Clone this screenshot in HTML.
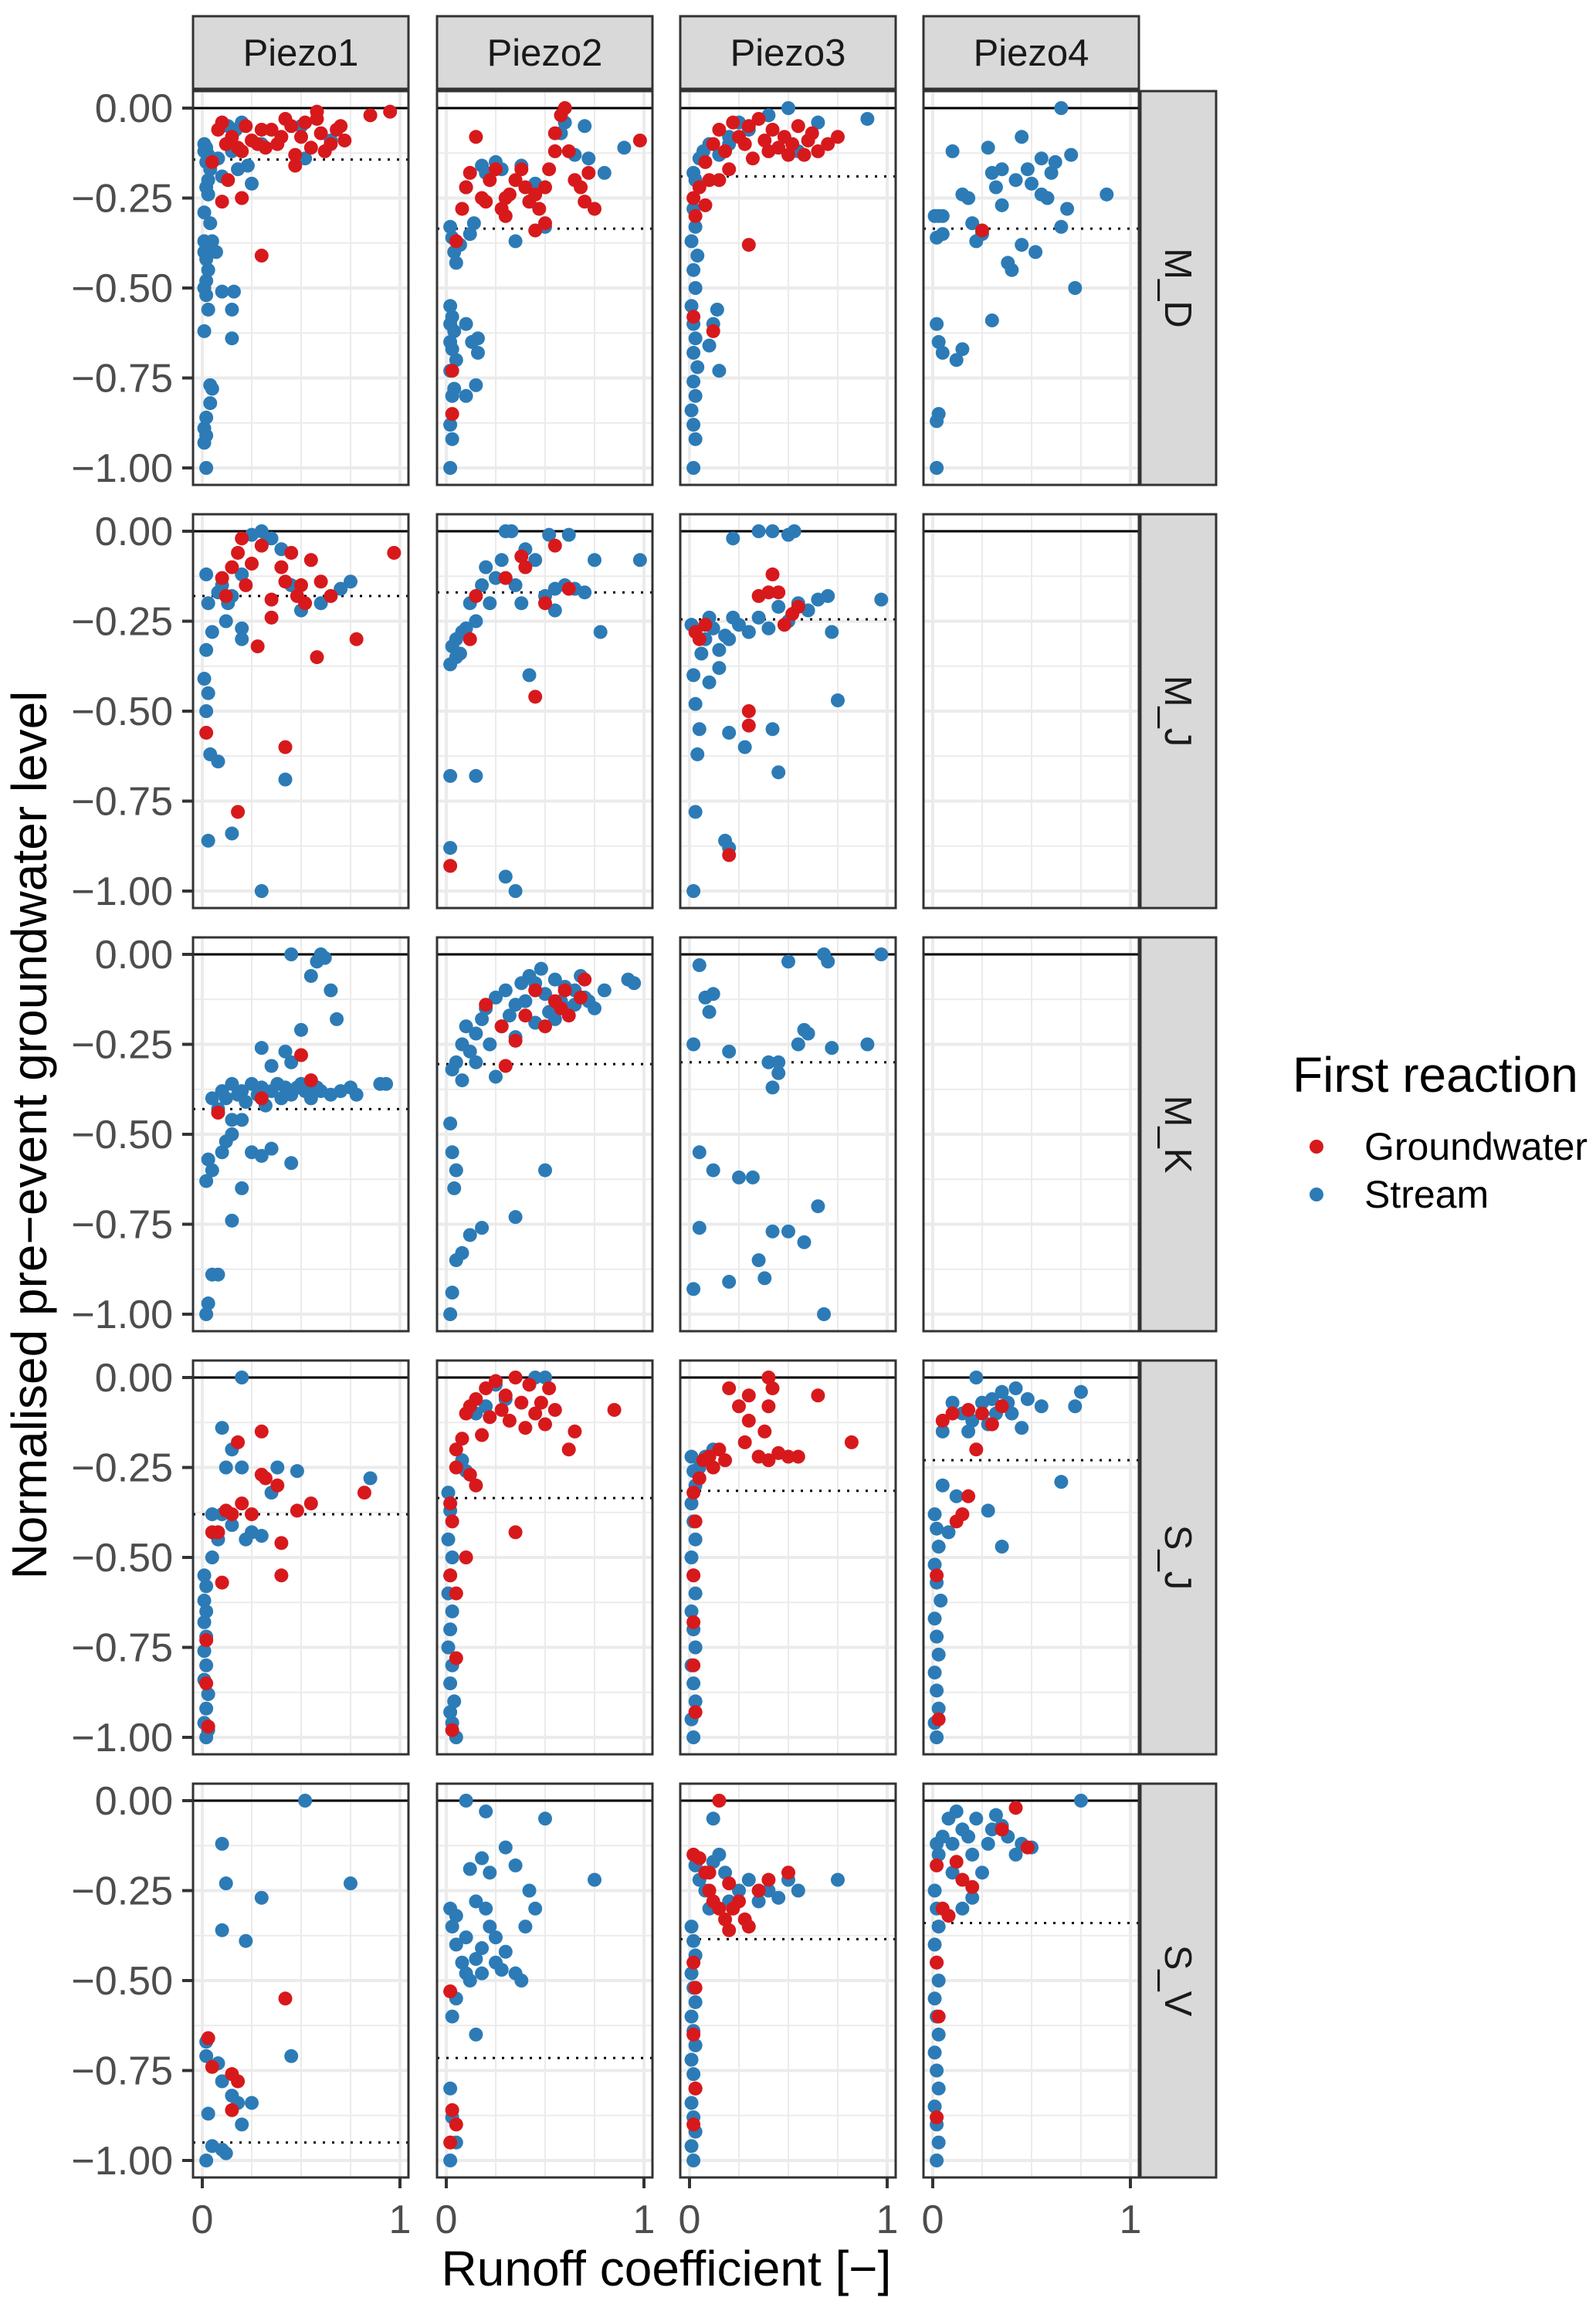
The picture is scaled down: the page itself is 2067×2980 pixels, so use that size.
<!DOCTYPE html>
<html><head><meta charset="utf-8"><style>html,body{margin:0;padding:0;background:#fff}svg{display:block}</style></head>
<body>
<svg id="chart" width="2067" height="2980" viewBox="0 0 2067 2980" xmlns="http://www.w3.org/2000/svg" font-family="Liberation Sans, Arial, sans-serif">
<rect width="2067" height="2980" fill="#fff"/>
<g id="panels"></g>
<text x="0" y="0" transform="translate(60,1470) rotate(-90)" text-anchor="middle" font-size="64" fill="#000">Normalised pre−event groundwater level</text>
<text x="863" y="2960" text-anchor="middle" font-size="64" fill="#000">Runoff coefficient [−]</text>
<g>
<text x="1674" y="1414" font-size="64" fill="#000">First reaction</text>
<circle cx="1705" cy="1485" r="9" fill="#D7191C"/>
<text x="1767" y="1502" font-size="50" fill="#000">Groundwater</text>
<circle cx="1705" cy="1547" r="9" fill="#2C7BB6"/>
<text x="1767" y="1564" font-size="50" fill="#000">Stream</text>
</g>
</svg>
<script>
const columns = ["Piezo1","Piezo2","Piezo3","Piezo4"];
const rows = ["M_D","M_J","M_K","S_J","S_V"];
const yTicks = [0,-0.25,-0.5,-0.75,-1];
const yTickLabels = ["0.00","−0.25","−0.50","−0.75","−1.00"];
const xTicks = [0,1];
const xTickLabels = ["0","1"];
const thresholds = [
 [-0.143,-0.335,-0.19,-0.335],
 [-0.18,-0.17,-0.245,null],
 [-0.43,-0.305,-0.3,null],
 [-0.38,-0.335,-0.315,-0.23],
 [-0.95,-0.715,-0.385,-0.34]];

// M_D
const md1_gw=[[0.05,-0.15],[0.08,-0.06],[0.1,-0.04],[0.12,-0.1],[0.15,-0.08],[0.2,-0.12],[0.22,-0.05],[0.25,-0.09],[0.28,-0.1],[0.3,-0.06],[0.32,-0.11],[0.35,-0.06],[0.4,-0.08],[0.42,-0.03],[0.45,-0.05],[0.47,-0.13],[0.5,-0.08],[0.52,-0.04],[0.55,-0.11],[0.58,-0.01],[0.6,-0.07],[0.62,-0.12],[0.65,-0.1],[0.68,-0.06],[0.7,-0.05],[0.72,-0.09],[0.85,-0.02],[0.95,-0.01],[0.3,-0.41],[0.2,-0.25],[0.1,-0.26],[0.13,-0.2],[0.47,-0.16],[0.58,-0.03],[0.38,-0.1],[0.18,-0.11]];
const md1_st=[[0.01,-0.1],[0.02,-0.11],[0.01,-0.12],[0.03,-0.13],[0.02,-0.15],[0.04,-0.17],[0.03,-0.2],[0.02,-0.22],[0.03,-0.24],[0.01,-0.29],[0.04,-0.32],[0.01,-0.37],[0.02,-0.38],[0.01,-0.4],[0.02,-0.42],[0.03,-0.45],[0.02,-0.48],[0.01,-0.5],[0.02,-0.52],[0.03,-0.56],[0.01,-0.62],[0.04,-0.77],[0.05,-0.78],[0.04,-0.82],[0.02,-0.86],[0.01,-0.89],[0.02,-0.91],[0.01,-0.93],[0.02,-1.0],[0.08,-0.14],[0.1,-0.19],[0.13,-0.05],[0.17,-0.06],[0.2,-0.04],[0.15,-0.12],[0.18,-0.17],[0.23,-0.16],[0.25,-0.21],[0.3,-0.1],[0.5,-0.05],[0.52,-0.14],[0.65,-0.09],[0.1,-0.51],[0.16,-0.51],[0.15,-0.56],[0.15,-0.64],[0.05,-0.37],[0.07,-0.4]];
const md2_gw=[[0.08,-0.28],[0.1,-0.22],[0.12,-0.18],[0.15,-0.08],[0.18,-0.25],[0.2,-0.26],[0.22,-0.2],[0.25,-0.17],[0.28,-0.28],[0.3,-0.25],[0.32,-0.24],[0.35,-0.2],[0.38,-0.17],[0.4,-0.22],[0.42,-0.26],[0.45,-0.24],[0.47,-0.28],[0.5,-0.32],[0.52,-0.17],[0.55,-0.07],[0.58,-0.02],[0.6,0],[0.62,-0.12],[0.65,-0.2],[0.68,-0.22],[0.7,-0.26],[0.72,-0.18],[0.75,-0.28],[0.98,-0.09],[0.05,-0.37],[0.03,-0.73],[0.03,-0.85],[0.45,-0.34],[0.5,-0.22],[0.3,-0.3],[0.55,-0.12]];
const md2_st=[[0.02,-0.33],[0.03,-0.36],[0.04,-0.4],[0.05,-0.43],[0.07,-0.38],[0.1,-0.22],[0.12,-0.35],[0.14,-0.32],[0.18,-0.16],[0.2,-0.18],[0.25,-0.15],[0.28,-0.17],[0.35,-0.37],[0.42,-0.26],[0.5,-0.33],[0.58,-0.07],[0.6,-0.04],[0.65,-0.13],[0.7,-0.05],[0.72,-0.14],[0.8,-0.18],[0.9,-0.11],[0.45,-0.21],[0.38,-0.16],[0.02,-0.55],[0.03,-0.58],[0.02,-0.6],[0.04,-0.62],[0.02,-0.65],[0.03,-0.67],[0.05,-0.7],[0.02,-0.73],[0.04,-0.78],[0.03,-0.8],[0.02,-0.88],[0.03,-0.92],[0.02,-1.0],[0.1,-0.6],[0.13,-0.65],[0.16,-0.64],[0.16,-0.68],[0.15,-0.77],[0.1,-0.8]];
const md3_gw=[[0.03,-0.3],[0.05,-0.22],[0.08,-0.15],[0.1,-0.2],[0.12,-0.1],[0.15,-0.06],[0.18,-0.12],[0.2,-0.17],[0.22,-0.04],[0.25,-0.08],[0.28,-0.1],[0.3,-0.05],[0.32,-0.14],[0.35,-0.03],[0.38,-0.09],[0.4,-0.12],[0.42,-0.06],[0.45,-0.11],[0.48,-0.08],[0.5,-0.13],[0.52,-0.1],[0.55,-0.05],[0.58,-0.13],[0.6,-0.09],[0.62,-0.07],[0.65,-0.12],[0.7,-0.1],[0.75,-0.08],[0.3,-0.38],[0.02,-0.58],[0.12,-0.62],[0.08,-0.27],[0.15,-0.2],[0.02,-0.25]];
const md3_st=[[0.02,-0.18],[0.03,-0.2],[0.05,-0.14],[0.07,-0.12],[0.1,-0.1],[0.15,-0.13],[0.2,-0.08],[0.25,-0.04],[0.3,-0.06],[0.4,-0.02],[0.5,0],[0.55,-0.12],[0.65,-0.04],[0.9,-0.03],[0.12,-0.6],[0.14,-0.56],[0.15,-0.73],[0.1,-0.66],[0.2,-0.1],[0.02,-0.28],[0.03,-0.33],[0.01,-0.37],[0.04,-0.41],[0.02,-0.45],[0.03,-0.5],[0.01,-0.55],[0.02,-0.6],[0.03,-0.64],[0.02,-0.68],[0.04,-0.72],[0.02,-0.76],[0.03,-0.8],[0.01,-0.84],[0.02,-0.88],[0.03,-0.92],[0.02,-1.0]];
const md4_gw=[[0.25,-0.34]];
const md4_st=[[0.01,-0.3],[0.03,-0.3],[0.05,-0.3],[0.02,-0.36],[0.05,-0.35],[0.1,-0.12],[0.15,-0.24],[0.18,-0.25],[0.2,-0.32],[0.22,-0.37],[0.25,-0.35],[0.28,-0.11],[0.3,-0.18],[0.32,-0.22],[0.35,-0.27],[0.38,-0.43],[0.4,-0.45],[0.42,-0.2],[0.45,-0.38],[0.48,-0.17],[0.5,-0.21],[0.52,-0.4],[0.55,-0.14],[0.58,-0.25],[0.6,-0.18],[0.62,-0.15],[0.65,0],[0.65,-0.33],[0.68,-0.28],[0.7,-0.13],[0.72,-0.5],[0.88,-0.24],[0.3,-0.59],[0.02,-0.6],[0.03,-0.65],[0.05,-0.68],[0.15,-0.67],[0.12,-0.7],[0.03,-0.85],[0.02,-0.87],[0.02,-1.0],[0.45,-0.08],[0.35,-0.17],[0.55,-0.24]];
// M_J
const mj1_gw=[[0.02,-0.56],[0.1,-0.13],[0.12,-0.18],[0.15,-0.1],[0.18,-0.06],[0.2,-0.02],[0.22,-0.15],[0.25,-0.09],[0.28,-0.32],[0.3,-0.04],[0.35,-0.24],[0.4,-0.1],[0.42,-0.14],[0.45,-0.06],[0.48,-0.18],[0.5,-0.15],[0.52,-0.2],[0.55,-0.08],[0.6,-0.14],[0.65,-0.18],[0.78,-0.3],[0.97,-0.06],[0.42,-0.6],[0.18,-0.78],[0.58,-0.35],[0.35,-0.19]];
const mj1_st=[[0.02,-0.12],[0.03,-0.2],[0.05,-0.28],[0.02,-0.33],[0.01,-0.41],[0.03,-0.45],[0.02,-0.5],[0.04,-0.62],[0.08,-0.64],[0.03,-0.86],[0.15,-0.84],[0.3,-1.0],[0.42,-0.69],[0.08,-0.17],[0.1,-0.15],[0.12,-0.25],[0.15,-0.18],[0.2,-0.12],[0.2,-0.3],[0.25,-0.01],[0.3,0],[0.35,-0.02],[0.4,-0.05],[0.45,-0.15],[0.5,-0.22],[0.6,-0.2],[0.7,-0.16],[0.75,-0.14],[0.2,-0.27],[0.13,-0.2],[0.33,-0.02]];
const mj2_gw=[[0.02,-0.93],[0.12,-0.3],[0.15,-0.18],[0.3,-0.13],[0.38,-0.07],[0.4,-0.1],[0.45,-0.46],[0.55,-0.04],[0.62,-0.16],[0.5,-0.2]];
const mj2_st=[[0.02,-0.37],[0.03,-0.32],[0.05,-0.3],[0.05,-0.35],[0.07,-0.34],[0.08,-0.28],[0.1,-0.27],[0.12,-0.2],[0.15,-0.25],[0.18,-0.15],[0.2,-0.1],[0.25,-0.13],[0.28,-0.08],[0.3,0],[0.33,0],[0.35,-0.15],[0.38,-0.2],[0.4,-0.05],[0.42,-0.4],[0.45,-0.08],[0.5,-0.18],[0.52,-0.01],[0.55,-0.16],[0.6,-0.15],[0.62,-0.01],[0.65,-0.16],[0.7,-0.17],[0.75,-0.08],[0.78,-0.28],[0.98,-0.08],[0.02,-0.68],[0.02,-0.88],[0.15,-0.68],[0.3,-0.96],[0.35,-1.0],[0.55,-0.22],[0.22,-0.2]];
const mj3_gw=[[0.03,-0.28],[0.05,-0.3],[0.08,-0.26],[0.3,-0.5],[0.2,-0.9],[0.3,-0.54],[0.35,-0.18],[0.4,-0.17],[0.45,-0.17],[0.52,-0.23],[0.55,-0.21],[0.48,-0.26],[0.42,-0.12]];
const mj3_st=[[0.01,-0.26],[0.02,-0.4],[0.03,-0.48],[0.05,-0.55],[0.04,-0.62],[0.03,-0.78],[0.02,-1.0],[0.06,-0.34],[0.08,-0.3],[0.1,-0.24],[0.12,-0.27],[0.15,-0.33],[0.15,-0.38],[0.18,-0.29],[0.2,-0.3],[0.22,-0.24],[0.25,-0.26],[0.3,-0.28],[0.35,-0.24],[0.4,-0.27],[0.45,-0.21],[0.5,-0.25],[0.55,-0.2],[0.6,-0.22],[0.65,-0.19],[0.7,-0.18],[0.72,-0.28],[0.75,-0.47],[0.97,-0.19],[0.28,-0.6],[0.2,-0.56],[0.42,-0.55],[0.45,-0.67],[0.18,-0.86],[0.2,-0.88],[0.35,0],[0.42,0],[0.5,-0.01],[0.53,0],[0.22,-0.02],[0.3,-0.28],[0.1,-0.42]];
// M_K
const mk1_gw=[[0.08,-0.44],[0.55,-0.35],[0.5,-0.28],[0.3,-0.4]];
const mk1_st=[[0.02,-1.0],[0.03,-0.97],[0.05,-0.89],[0.08,-0.89],[0.02,-0.63],[0.05,-0.6],[0.03,-0.57],[0.1,-0.55],[0.12,-0.52],[0.15,-0.5],[0.15,-0.74],[0.2,-0.65],[0.25,-0.55],[0.3,-0.56],[0.35,-0.54],[0.45,-0.58],[0.05,-0.4],[0.08,-0.43],[0.1,-0.38],[0.12,-0.4],[0.15,-0.36],[0.18,-0.39],[0.2,-0.38],[0.22,-0.41],[0.25,-0.36],[0.28,-0.39],[0.3,-0.37],[0.32,-0.42],[0.35,-0.38],[0.38,-0.36],[0.4,-0.4],[0.42,-0.37],[0.45,-0.39],[0.48,-0.37],[0.5,-0.36],[0.52,-0.38],[0.55,-0.4],[0.58,-0.37],[0.6,-0.38],[0.65,-0.39],[0.7,-0.38],[0.75,-0.37],[0.78,-0.39],[0.9,-0.36],[0.93,-0.36],[0.3,-0.26],[0.35,-0.31],[0.42,-0.27],[0.45,-0.3],[0.5,-0.21],[0.55,-0.06],[0.58,-0.02],[0.6,0],[0.62,-0.01],[0.65,-0.1],[0.68,-0.18],[0.45,0],[0.2,-0.46],[0.15,-0.46]];
const mk2_gw=[[0.2,-0.14],[0.3,-0.31],[0.35,-0.24],[0.4,-0.17],[0.45,-0.1],[0.5,-0.2],[0.55,-0.13],[0.6,-0.1],[0.62,-0.17],[0.68,-0.12],[0.7,-0.07],[0.58,-0.15],[0.28,-0.2]];
const mk2_st=[[0.05,-0.3],[0.08,-0.25],[0.1,-0.2],[0.12,-0.27],[0.15,-0.22],[0.18,-0.18],[0.2,-0.15],[0.22,-0.25],[0.25,-0.12],[0.28,-0.2],[0.3,-0.1],[0.32,-0.17],[0.35,-0.14],[0.38,-0.08],[0.4,-0.13],[0.42,-0.06],[0.45,-0.19],[0.48,-0.04],[0.5,-0.11],[0.52,-0.16],[0.55,-0.07],[0.58,-0.13],[0.6,-0.09],[0.62,-0.15],[0.65,-0.1],[0.68,-0.06],[0.7,-0.12],[0.75,-0.15],[0.8,-0.1],[0.92,-0.07],[0.95,-0.08],[0.03,-0.32],[0.08,-0.35],[0.15,-0.3],[0.25,-0.34],[0.35,-0.23],[0.45,-0.08],[0.55,-0.18],[0.65,-0.14],[0.72,-0.13],[0.02,-0.47],[0.03,-0.55],[0.05,-0.6],[0.04,-0.65],[0.05,-0.85],[0.08,-0.83],[0.12,-0.78],[0.18,-0.76],[0.35,-0.73],[0.02,-1.0],[0.03,-0.94],[0.5,-0.6]];
const mk3_gw=[];
const mk3_st=[[0.02,-0.25],[0.08,-0.12],[0.12,-0.11],[0.1,-0.16],[0.2,-0.27],[0.05,-0.55],[0.05,-0.76],[0.02,-0.93],[0.12,-0.6],[0.25,-0.62],[0.2,-0.91],[0.35,-0.85],[0.38,-0.9],[0.42,-0.77],[0.45,-0.33],[0.4,-0.3],[0.42,-0.37],[0.5,-0.77],[0.58,-0.8],[0.55,-0.25],[0.6,-0.22],[0.65,-0.7],[0.68,-1.0],[0.5,-0.02],[0.58,-0.21],[0.68,0],[0.7,-0.02],[0.72,-0.26],[0.9,-0.25],[0.97,0],[0.45,-0.3],[0.32,-0.62],[0.05,-0.03]];
// S_J
const sj1_gw=[[0.02,-0.73],[0.02,-0.85],[0.03,-0.97],[0.05,-0.43],[0.08,-0.43],[0.1,-0.57],[0.12,-0.37],[0.18,-0.18],[0.2,-0.35],[0.25,-0.38],[0.3,-0.15],[0.32,-0.28],[0.38,-0.3],[0.4,-0.46],[0.4,-0.55],[0.48,-0.37],[0.55,-0.35],[0.82,-0.32],[0.15,-0.38],[0.3,-0.27]];
const sj1_st=[[0.01,-0.55],[0.02,-0.58],[0.01,-0.62],[0.02,-0.65],[0.01,-0.68],[0.02,-0.72],[0.01,-0.76],[0.02,-0.8],[0.01,-0.84],[0.03,-0.88],[0.02,-0.92],[0.01,-0.96],[0.03,-0.98],[0.02,-1.0],[0.05,-0.5],[0.08,-0.45],[0.1,-0.14],[0.12,-0.25],[0.15,-0.41],[0.2,0],[0.2,-0.25],[0.25,-0.43],[0.3,-0.44],[0.35,-0.32],[0.38,-0.25],[0.48,-0.26],[0.85,-0.28],[0.15,-0.2],[0.05,-0.38],[0.1,-0.38],[0.22,-0.45]];
const sj2_gw=[[0.02,-0.35],[0.03,-0.4],[0.05,-0.2],[0.05,-0.25],[0.08,-0.17],[0.1,-0.1],[0.12,-0.27],[0.15,-0.06],[0.18,-0.16],[0.2,-0.03],[0.22,-0.11],[0.25,-0.01],[0.28,-0.09],[0.3,-0.05],[0.32,-0.12],[0.35,0],[0.38,-0.07],[0.4,-0.14],[0.42,-0.02],[0.45,-0.1],[0.48,-0.07],[0.5,-0.13],[0.52,-0.03],[0.55,-0.09],[0.62,-0.2],[0.65,-0.15],[0.85,-0.09],[0.35,-0.43],[0.1,-0.5],[0.02,-0.55],[0.05,-0.6],[0.03,-0.98],[0.05,-0.78],[0.15,-0.3],[0.12,-0.08]];
const sj2_st=[[0.01,-0.32],[0.02,-0.37],[0.01,-0.45],[0.03,-0.5],[0.02,-0.55],[0.01,-0.6],[0.03,-0.65],[0.02,-0.7],[0.01,-0.75],[0.03,-0.8],[0.02,-0.85],[0.04,-0.9],[0.02,-0.93],[0.03,-0.96],[0.05,-1.0],[0.08,-0.23],[0.1,-0.26],[0.15,-0.1],[0.2,-0.08],[0.25,-0.02],[0.3,-0.06],[0.5,0],[0.45,0]];
const sj3_gw=[[0.02,-0.32],[0.03,-0.4],[0.05,-0.28],[0.07,-0.23],[0.1,-0.22],[0.12,-0.25],[0.15,-0.2],[0.18,-0.23],[0.2,-0.03],[0.25,-0.08],[0.28,-0.18],[0.3,-0.12],[0.35,-0.22],[0.38,-0.15],[0.4,-0.08],[0.42,-0.03],[0.4,-0.23],[0.45,-0.21],[0.5,-0.22],[0.55,-0.22],[0.65,-0.05],[0.82,-0.18],[0.4,0],[0.3,-0.05],[0.02,-0.55],[0.02,-0.8],[0.03,-0.93],[0.02,-0.68]];
const sj3_st=[[0.01,-0.22],[0.02,-0.26],[0.03,-0.3],[0.01,-0.35],[0.02,-0.4],[0.03,-0.45],[0.01,-0.5],[0.02,-0.55],[0.03,-0.6],[0.01,-0.65],[0.02,-0.7],[0.03,-0.75],[0.01,-0.8],[0.02,-0.85],[0.03,-0.9],[0.01,-0.95],[0.02,-1.0],[0.05,-0.25],[0.08,-0.22],[0.12,-0.2]];
const sj4_gw=[[0.05,-0.12],[0.1,-0.1],[0.18,-0.09],[0.25,-0.1],[0.3,-0.13],[0.35,-0.08],[0.15,-0.38],[0.12,-0.4],[0.22,-0.2],[0.18,-0.33],[0.02,-0.55],[0.03,-0.95]];
const sj4_st=[[0.01,-0.38],[0.02,-0.42],[0.03,-0.47],[0.01,-0.52],[0.02,-0.57],[0.04,-0.62],[0.01,-0.67],[0.02,-0.72],[0.03,-0.77],[0.01,-0.82],[0.02,-0.87],[0.03,-0.92],[0.01,-0.96],[0.02,-1.0],[0.05,-0.15],[0.1,-0.07],[0.15,-0.1],[0.2,-0.12],[0.22,0],[0.25,-0.07],[0.28,-0.13],[0.3,-0.06],[0.32,-0.1],[0.35,-0.04],[0.38,-0.07],[0.4,-0.1],[0.42,-0.03],[0.45,-0.14],[0.48,-0.06],[0.55,-0.08],[0.72,-0.08],[0.75,-0.04],[0.65,-0.29],[0.35,-0.47],[0.28,-0.37],[0.05,-0.3],[0.08,-0.43],[0.12,-0.33],[0.18,-0.15]];
// S_V
const sv1_gw=[[0.03,-0.66],[0.05,-0.74],[0.15,-0.76],[0.18,-0.78],[0.42,-0.55],[0.15,-0.86]];
const sv1_st=[[0.02,-0.67],[0.02,-0.71],[0.03,-0.87],[0.02,-1.0],[0.08,-0.73],[0.1,-0.12],[0.12,-0.23],[0.1,-0.36],[0.15,-0.82],[0.18,-0.84],[0.2,-0.9],[0.22,-0.39],[0.25,-0.84],[0.3,-0.27],[0.05,-0.96],[0.1,-0.97],[0.12,-0.98],[0.45,-0.71],[0.52,0],[0.75,-0.23],[0.1,-0.78]];
const sv2_gw=[[0.02,-0.53],[0.03,-0.86],[0.05,-0.9],[0.02,-0.95]];
const sv2_st=[[0.02,-0.3],[0.03,-0.35],[0.05,-0.32],[0.05,-0.4],[0.08,-0.45],[0.1,-0.48],[0.1,-0.38],[0.12,-0.5],[0.15,-0.44],[0.18,-0.48],[0.2,-0.3],[0.22,-0.35],[0.25,-0.38],[0.28,-0.47],[0.3,-0.42],[0.35,-0.48],[0.38,-0.5],[0.4,-0.35],[0.45,-0.3],[0.5,-0.05],[0.15,-0.28],[0.18,-0.16],[0.22,-0.2],[0.12,-0.19],[0.1,0],[0.2,-0.03],[0.3,-0.13],[0.35,-0.18],[0.42,-0.25],[0.75,-0.22],[0.15,-0.65],[0.05,-0.55],[0.03,-0.6],[0.02,-0.8],[0.03,-0.88],[0.05,-0.95],[0.02,-1.0],[0.25,-0.45],[0.18,-0.41]];
const sv3_gw=[[0.02,-0.15],[0.05,-0.16],[0.08,-0.2],[0.1,-0.25],[0.12,-0.28],[0.15,-0.3],[0.18,-0.33],[0.2,-0.36],[0.22,-0.3],[0.25,-0.28],[0.28,-0.33],[0.3,-0.35],[0.15,0],[0.35,-0.25],[0.4,-0.22],[0.5,-0.2],[0.02,-0.45],[0.03,-0.52],[0.02,-0.65],[0.03,-0.8],[0.02,-0.9],[0.2,-0.23],[0.1,-0.2]];
const sv3_st=[[0.03,-0.18],[0.05,-0.22],[0.08,-0.25],[0.1,-0.3],[0.12,-0.17],[0.15,-0.15],[0.18,-0.2],[0.2,-0.28],[0.25,-0.25],[0.3,-0.22],[0.35,-0.28],[0.4,-0.25],[0.45,-0.27],[0.5,-0.22],[0.55,-0.25],[0.75,-0.22],[0.12,-0.05],[0.01,-0.35],[0.02,-0.39],[0.03,-0.43],[0.01,-0.48],[0.02,-0.52],[0.03,-0.56],[0.01,-0.6],[0.02,-0.64],[0.03,-0.68],[0.01,-0.72],[0.02,-0.76],[0.03,-0.8],[0.01,-0.84],[0.02,-0.88],[0.03,-0.92],[0.01,-0.96],[0.02,-1.0]];
const sv4_gw=[[0.02,-0.18],[0.05,-0.3],[0.08,-0.32],[0.12,-0.17],[0.15,-0.22],[0.2,-0.24],[0.35,-0.08],[0.42,-0.02],[0.48,-0.13],[0.02,-0.45],[0.03,-0.6],[0.02,-0.88]];
const sv4_st=[[0.02,-0.12],[0.03,-0.15],[0.05,-0.1],[0.08,-0.05],[0.1,-0.12],[0.12,-0.03],[0.15,-0.08],[0.18,-0.1],[0.2,-0.15],[0.22,-0.05],[0.25,-0.2],[0.28,-0.12],[0.3,-0.08],[0.32,-0.04],[0.35,-0.07],[0.38,-0.1],[0.42,-0.15],[0.45,-0.12],[0.5,-0.13],[0.75,0],[0.15,-0.3],[0.2,-0.27],[0.1,-0.2],[0.01,-0.25],[0.02,-0.3],[0.03,-0.35],[0.01,-0.4],[0.02,-0.45],[0.03,-0.5],[0.01,-0.55],[0.02,-0.6],[0.03,-0.65],[0.01,-0.7],[0.02,-0.75],[0.03,-0.8],[0.01,-0.85],[0.02,-0.9],[0.03,-0.95],[0.02,-1.0]];

const panelData = [
 [[md1_gw,md1_st],[md2_gw,md2_st],[md3_gw,md3_st],[md4_gw,md4_st]],
 [[mj1_gw,mj1_st],[mj2_gw,mj2_st],[mj3_gw,mj3_st],[[],[]]],
 [[mk1_gw,mk1_st],[mk2_gw,mk2_st],[mk3_gw,mk3_st],[[],[]]],
 [[sj1_gw,sj1_st],[sj2_gw,sj2_st],[sj3_gw,sj3_st],[sj4_gw,sj4_st]],
 [[sv1_gw,sv1_st],[sv2_gw,sv2_st],[sv3_gw,sv3_st],[sv4_gw,sv4_st]]];

const NS="http://www.w3.org/2000/svg";
const root=document.getElementById('panels');
function mk(tag,attrs,parent){const e=document.createElementNS(NS,tag);for(const k in attrs)e.setAttribute(k,attrs[k]);(parent||root).appendChild(e);return e;}
const colLeft=[250,566,881,1196], PW=279, PH=510;
const rowTop=[118,666,1214,1762,2310];
function xScale(c,v){return colLeft[c]+12+v*256;}
function yScale(r,v){return rowTop[r]+22-v*466;}

columns.forEach((name,c)=>{
  const s=mk('rect',{x:colLeft[c],y:21,width:PW,height:94,fill:'#d9d9d9',stroke:'#333','stroke-width':3});
  
  
  const t=mk('text',{x:colLeft[c]+PW/2,y:85,'text-anchor':'middle','font-size':49,fill:'#1a1a1a'});
  t.textContent=name;
  
  
});
rows.forEach((name,r)=>{
  const s=mk('rect',{x:1477,y:rowTop[r],width:98,height:PH,fill:'#d9d9d9',stroke:'#333','stroke-width':3});
  
  
  const cy=rowTop[r]+PH/2;
  const t=mk('text',{x:0,y:0,transform:`translate(1509,${cy}) rotate(90)`,'text-anchor':'middle','font-size':49,fill:'#1a1a1a'});
  t.textContent=name;
  
  
  yTicks.forEach((v,i)=>{
    const y=yScale(r,v);
    const tk=mk('line',{x1:236,x2:250,y1:y,y2:y,stroke:'#333','stroke-width':4});
    
    
    const lb=mk('text',{x:224,y:y+18,'text-anchor':'end','font-size':52,fill:'#4d4d4d'});
    lb.textContent=yTickLabels[i];
    
    
  });
  columns.forEach((cn,c)=>{
    const g=mk('g',{});
    
    
    const L=colLeft[c], T=rowTop[r];
    mk('rect',{x:L,y:T,width:PW,height:PH,fill:'#fff'},g);
    [-0.125,-0.375,-0.625,-0.875].forEach(v=>mk('line',{x1:L,x2:L+PW,y1:yScale(r,v),y2:yScale(r,v),stroke:'#ebebeb','stroke-width':2},g));
    [0.25,0.5,0.75].forEach(v=>mk('line',{x1:xScale(c,v),x2:xScale(c,v),y1:T,y2:T+PH,stroke:'#ebebeb','stroke-width':2},g));
    yTicks.forEach(v=>mk('line',{x1:L,x2:L+PW,y1:yScale(r,v),y2:yScale(r,v),stroke:'#ebebeb','stroke-width':4},g));
    xTicks.forEach(v=>mk('line',{x1:xScale(c,v),x2:xScale(c,v),y1:T,y2:T+PH,stroke:'#ebebeb','stroke-width':4},g));
    const z=mk('line',{x1:L,x2:L+PW,y1:yScale(r,0),y2:yScale(r,0),stroke:'#000','stroke-width':3},g);
    
    
    const th=thresholds[r][c];
    if(th!==null){
      const d=mk('line',{x1:L,x2:L+PW,y1:yScale(r,th),y2:yScale(r,th),stroke:'#000','stroke-width':3,'stroke-dasharray':'3 9'},g);
      
      
    }
    const [gw,st]=panelData[r][c];
    st.forEach(p=>{const e=mk('circle',{cx:xScale(c,p[0]),cy:yScale(r,p[1]),r:9,fill:'#2C7BB6'},g);
      
      });
    gw.forEach(p=>{const e=mk('circle',{cx:xScale(c,p[0]),cy:yScale(r,p[1]),r:9,fill:'#D7191C'},g);
      
      });
    mk('rect',{x:L,y:T,width:PW,height:PH,fill:'none',stroke:'#333','stroke-width':3},g);
  });
});
columns.forEach((cn,c)=>{
  xTicks.forEach((v,i)=>{
    const x=xScale(c,v);
    const tk=mk('line',{x1:x,x2:x,y1:2820,y2:2834,stroke:'#333','stroke-width':4});
    
    
    const lb=mk('text',{x:x,y:2892,'text-anchor':'middle','font-size':52,fill:'#4d4d4d'});
    lb.textContent=xTickLabels[i];
    
    
  });
});
</script>
</body></html>
